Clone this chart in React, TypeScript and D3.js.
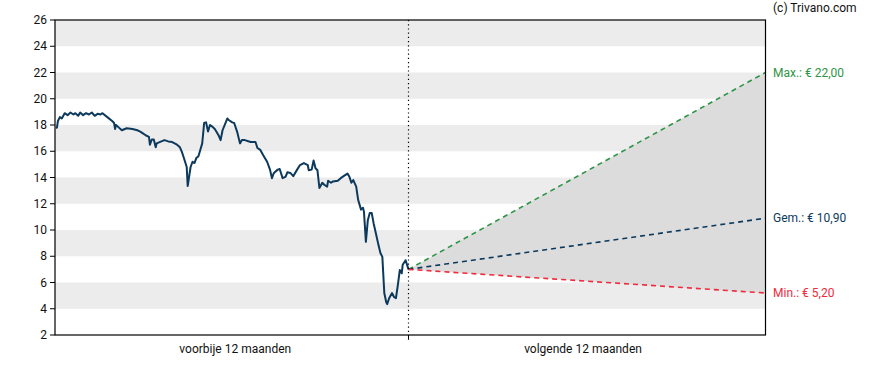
import React from "react";
import * as d3 from "d3";

const priceDays = [1,2,3,5,7,10,13,16,19,21,24,26,29,32,35,38,41,44,47,49,54,59,61,62,63,66,69,74,80,85,88,90,94,97,98,100,102,104,105,108,113,117,121,126,129,131,133,136,137,140,142,144,146,148,150,152,154,156,158,160,162,165,169,171,173,176,178,179,183,185,188,191,193,196,202,207,209,212,215,219,222,224,226,230,232,235,238,240,243,246,250,253,257,261,262,265,267,269,271,273,276,278,281,282,285,287,292,295,298,302,304,306,308,311,313,314,316,318,319,321,323,325,327,329,331,334,336,338,340,342,343,345,348,350,352,354,356,358,359,362,365];
const priceValues = [17.77,17.8,18.3,18.6,18.5,18.9,18.75,18.95,18.8,18.9,18.7,18.95,18.75,18.9,18.8,18.95,18.7,18.85,18.8,18.9,18.6,18.3,18.15,17.7,18.0,17.8,17.6,17.75,17.7,17.6,17.5,17.4,17.2,17.1,16.5,16.9,16.9,16.3,16.6,16.7,16.85,16.75,16.7,16.5,16.3,15.95,15.5,14.8,13.35,14.8,15.2,15.1,15.5,15.6,16.1,16.6,18.15,18.2,17.5,18.0,17.9,17.7,17.2,16.85,17.6,18.15,18.5,18.4,18.2,18.15,17.5,16.6,16.85,16.85,16.7,16.7,16.25,16.1,15.7,15.2,14.6,13.95,14.35,14.6,14.65,13.95,14.05,14.4,14.35,14.1,14.6,14.95,15.1,14.95,14.55,14.6,15.3,14.7,14.55,13.2,13.6,13.45,13.3,13.75,13.6,13.7,13.75,13.95,14.1,14.3,14.05,13.6,13.8,13.3,12.3,12.05,11.55,11.7,11.4,9.1,10.75,11.3,11.3,10.5,9.85,8.85,8.25,7.95,5.2,4.5,4.35,4.8,5.2,4.9,4.8,5.8,6.95,6.7,7.35,7.7,7.0];

const yTicks = [2,4,6,8,10,12,14,16,18,20,22,24,26];
const bandStarts = [4,8,12,16,20,24];
const periodLabels = ["voorbije 12 maanden", "volgende 12 maanden"];
const lastPrice = 7.0;
const forecastNames = ["Max.", "Gem.", "Min."];
const forecastValues = [22.0, 10.9, 5.2];
const forecastColors = ["#2e9445", "#0d3a5c", "#f02a3c"];

export default function App() {
  const W = 888, H = 370;
  const left = 55, right = 765.5, top = 20, bottom = 335, mid = 408.5;
  const x = d3.scaleLinear().domain([0, 365, 730]).range([left, mid, right]);
  const y = d3.scaleLinear().domain([2, 26]).range([bottom, top]);
  const line = d3.line<number>().x((_, i) => x(priceDays[i])).y((v) => y(v));
  const fmt = (v: number) => "€ " + v.toFixed(2).replace(".", ",");
  const area = `M${x(365)},${y(lastPrice)} L${x(730)},${y(forecastValues[0])} L${x(730)},${y(forecastValues[2])} Z`;
  const font = "Roboto, sans-serif";
  return (
    <svg width={W} height={H} style={{ position: "absolute", left: 0, top: 0 }} fontFamily={font}>
      {bandStarts.map((b) => (
        <rect key={b} x={left} width={right - left} y={y(b + 2)} height={y(b) - y(b + 2)} fill="#ececec" />
      ))}
      <path d={area} fill="#dcdcdc" />
      {forecastValues.map((v, i) => (
        <line key={i} x1={x(365)} y1={y(lastPrice)} x2={x(730)} y2={y(v)} stroke={forecastColors[i]} strokeWidth={1.6} strokeDasharray="5,4" />
      ))}
      <path d={line(priceValues) || ""} fill="none" stroke="#0d3a5c" strokeWidth={2} strokeLinejoin="round" />
      <line x1={mid} x2={mid} y1={top} y2={bottom + 5} stroke="#000" strokeWidth={1.2} strokeDasharray="1.2,3" />
      <rect x={left} y={top} width={right - left} height={bottom - top} fill="none" stroke="#000" strokeWidth={1.2} />
      {yTicks.map((t) => (
        <g key={t}>
          <line x1={left - 5} x2={left} y1={y(t)} y2={y(t)} stroke="#000" strokeWidth={1} />
          <text x={left - 8} y={y(t)} dy="0.35em" textAnchor="end" fontSize={12} fill="#111">{t}</text>
        </g>
      ))}
      <line x1={mid} x2={mid} y1={bottom} y2={bottom + 4} stroke="#000" strokeWidth={1} />
      <text x={x(182.5) + 3.5} y={353} textAnchor="middle" fontSize={12} fill="#111">{periodLabels[0]}</text>
      <text x={x(547.5) - 4} y={353} textAnchor="middle" fontSize={12} fill="#111">{periodLabels[1]}</text>
      {forecastValues.map((v, i) => (
        <text key={i} x={773} y={y(v)} dy="0.35em" fontSize={12} fill={forecastColors[i]}>{`${forecastNames[i]}: ${fmt(v)}`}</text>
      ))}
      <text x={773} y={12} fontSize={12} fill="#111">(c) Trivano.com</text>
    </svg>
  );
}
